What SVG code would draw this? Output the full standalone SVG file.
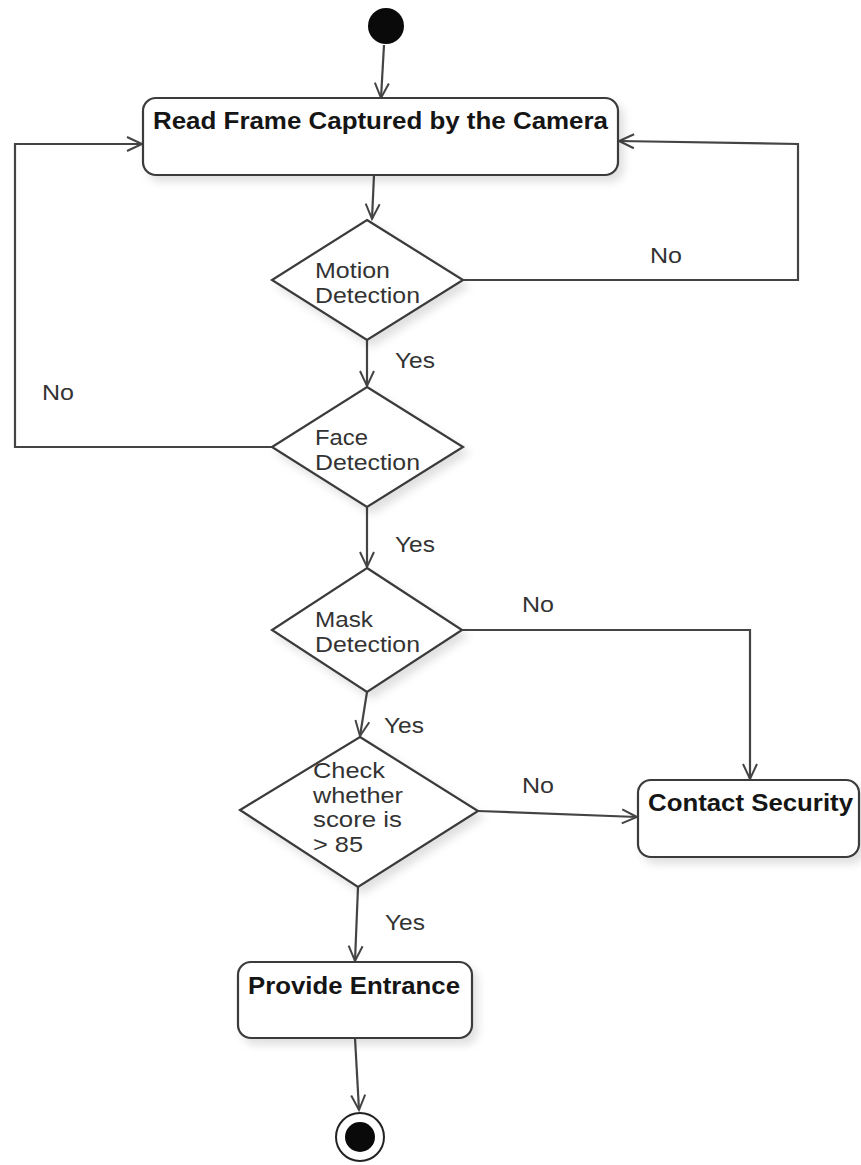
<svg xmlns="http://www.w3.org/2000/svg" width="861" height="1165" viewBox="0 0 861 1165">
<style>
.shape{fill:#fff;stroke:#3a3a3a;stroke-width:2.2;filter:url(#sh)}
.line{fill:none;stroke:#444;stroke-width:2.2;marker-end:url(#arr)}
.lbl{font-family:"Liberation Sans",Arial,sans-serif;font-size:22px;fill:#333}
.ttl{font-family:"Liberation Sans",Arial,sans-serif;font-size:23px;font-weight:bold;fill:#151515}
</style>
<defs>
<filter id="sh" x="-20%" y="-20%" width="150%" height="150%">
<feDropShadow dx="5" dy="6" stdDeviation="4" flood-color="#000" flood-opacity="0.12"/>
</filter>
<marker id="arr" markerUnits="userSpaceOnUse" markerWidth="20" markerHeight="20" viewBox="0 0 20 20" refX="16" refY="10" orient="auto">
<path d="M1,3 L16,10 L1,17" fill="none" stroke="#444" stroke-width="2"/>
</marker>
</defs>
<rect width="861" height="1165" fill="#fff"/>

<g id="connectors">
<path class="line" d="M384,45 L381,98"/>
<path class="line" d="M374,175 L372,219"/>
<path class="line" d="M367,340 L367,386"/>
<path class="line" d="M367,507 L367,567"/>
<path class="line" d="M367,692 L360,736"/>
<path class="line" d="M358,887 L355,961"/>
<path class="line" d="M355,1038 L359,1110"/>
<path class="line" d="M272,447 L15,447 L15,144 L142,144"/>
<path class="line" d="M463,280 L798,280 L798,144 L619,141"/>
<path class="line" d="M462,630 L750,630 L750,779"/>
<path class="line" d="M478,811 L637,817"/>
</g>

<g id="labels">
<text class="lbl" x="650" y="263" textLength="32" lengthAdjust="spacingAndGlyphs">No</text>
<text class="lbl" x="42" y="400" textLength="32" lengthAdjust="spacingAndGlyphs">No</text>
<text class="lbl" x="395" y="368" textLength="40" lengthAdjust="spacingAndGlyphs">Yes</text>
<text class="lbl" x="395" y="552" textLength="40" lengthAdjust="spacingAndGlyphs">Yes</text>
<text class="lbl" x="522" y="612" textLength="32" lengthAdjust="spacingAndGlyphs">No</text>
<text class="lbl" x="384" y="733" textLength="40" lengthAdjust="spacingAndGlyphs">Yes</text>
<text class="lbl" x="522" y="793" textLength="32" lengthAdjust="spacingAndGlyphs">No</text>
<text class="lbl" x="385" y="930" textLength="40" lengthAdjust="spacingAndGlyphs">Yes</text>
</g>

<g id="start">
<circle cx="386" cy="26" r="18" fill="#0a0a0a"/>
</g>

<g id="read-frame">
<rect class="shape" x="143" y="98" width="475" height="77" rx="13"/>
<text class="ttl" x="153" y="129" textLength="455" lengthAdjust="spacingAndGlyphs">Read Frame Captured by the Camera</text>
</g>

<g id="motion-detection">
<polygon class="shape" points="367,220 463,280 367,340 272,280"/>
<text class="lbl" x="315" y="278" textLength="75" lengthAdjust="spacingAndGlyphs">Motion</text>
<text class="lbl" x="315" y="303" textLength="105" lengthAdjust="spacingAndGlyphs">Detection</text>
</g>

<g id="face-detection">
<polygon class="shape" points="367,387 463,447 367,507 272,447"/>
<text class="lbl" x="315" y="445" textLength="53" lengthAdjust="spacingAndGlyphs">Face</text>
<text class="lbl" x="315" y="470" textLength="105" lengthAdjust="spacingAndGlyphs">Detection</text>
</g>

<g id="mask-detection">
<polygon class="shape" points="367,568 462,630 367,692 272,630"/>
<text class="lbl" x="315" y="627" textLength="58" lengthAdjust="spacingAndGlyphs">Mask</text>
<text class="lbl" x="315" y="652" textLength="105" lengthAdjust="spacingAndGlyphs">Detection</text>
</g>

<g id="check-score">
<polygon class="shape" points="360,737 478,811 358,887 240,810"/>
<text class="lbl" x="313" y="778" textLength="72" lengthAdjust="spacingAndGlyphs">Check</text>
<text class="lbl" x="313" y="803" textLength="90" lengthAdjust="spacingAndGlyphs">whether</text>
<text class="lbl" x="313" y="827" textLength="89" lengthAdjust="spacingAndGlyphs">score is</text>
<text class="lbl" x="313" y="852" textLength="50" lengthAdjust="spacingAndGlyphs">&gt; 85</text>
</g>

<g id="contact-security">
<rect class="shape" x="638" y="780" width="221" height="77" rx="13"/>
<text class="ttl" x="648" y="811" textLength="205" lengthAdjust="spacingAndGlyphs">Contact Security</text>
</g>

<g id="provide-entrance">
<rect class="shape" x="238" y="962" width="234" height="76" rx="13"/>
<text class="ttl" x="248" y="994" textLength="212" lengthAdjust="spacingAndGlyphs">Provide Entrance</text>
</g>

<g id="end">
<circle cx="360" cy="1137" r="24" fill="#fff" stroke="#222" stroke-width="2"/>
<circle cx="360" cy="1137" r="15" fill="#0a0a0a"/>
</g>
</svg>
